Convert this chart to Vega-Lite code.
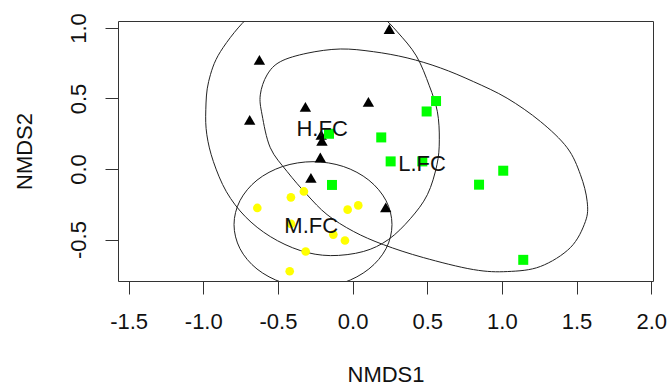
{
  "$schema": "https://vega.github.io/schema/vega-lite/v6.json",
  "width": 535,
  "height": 260,
  "autosize": {"type": "none"},
  "padding": {"left": 118, "top": 21, "right": 15, "bottom": 104},
  "background": "white",
  "config": {
    "view": {"stroke": "#333333", "strokeWidth": 1},
    "font": "Liberation Sans",
    "axis": {
      "grid": false,
      "domain": false,
      "tickSize": 13,
      "tickColor": "#333333",
      "tickWidth": 1,
      "labelFont": "Liberation Sans",
      "labelFontSize": 22,
      "labelColor": "#111111",
      "labelFlush": false,
      "labelOverlap": false,
      "titleFont": "Liberation Sans",
      "titleFontSize": 22,
      "titleFontWeight": "normal",
      "titleColor": "#111111"
    }
  },
  "datasets": {
    "pts": [
      {"group": "H.FC", "x": -0.624, "y": 0.774},
      {"group": "H.FC", "x": 0.246, "y": 0.993},
      {"group": "H.FC", "x": -0.689, "y": 0.348},
      {"group": "H.FC", "x": -0.316, "y": 0.441},
      {"group": "H.FC", "x": 0.106, "y": 0.476},
      {"group": "H.FC", "x": -0.210, "y": 0.242},
      {"group": "H.FC", "x": -0.205, "y": 0.200},
      {"group": "H.FC", "x": -0.216, "y": 0.082},
      {"group": "H.FC", "x": -0.279, "y": -0.063},
      {"group": "H.FC", "x": 0.222, "y": -0.272},
      {"group": "L.FC", "x": -0.158, "y": 0.250},
      {"group": "L.FC", "x": 0.192, "y": 0.224},
      {"group": "L.FC", "x": 0.496, "y": 0.408},
      {"group": "L.FC", "x": 0.559, "y": 0.482},
      {"group": "L.FC", "x": 0.255, "y": 0.054},
      {"group": "L.FC", "x": 0.467, "y": 0.054},
      {"group": "L.FC", "x": -0.138, "y": -0.113},
      {"group": "L.FC", "x": 1.009, "y": -0.012},
      {"group": "L.FC", "x": 0.847, "y": -0.111},
      {"group": "L.FC", "x": 1.143, "y": -0.644},
      {"group": "M.FC", "x": -0.638, "y": -0.276},
      {"group": "M.FC", "x": -0.413, "y": -0.201},
      {"group": "M.FC", "x": -0.326, "y": -0.159},
      {"group": "M.FC", "x": -0.413, "y": -0.389},
      {"group": "M.FC", "x": -0.033, "y": -0.288},
      {"group": "M.FC", "x": 0.038, "y": -0.258},
      {"group": "M.FC", "x": -0.129, "y": -0.465},
      {"group": "M.FC", "x": -0.051, "y": -0.507},
      {"group": "M.FC", "x": -0.314, "y": -0.585},
      {"group": "M.FC", "x": -0.421, "y": -0.725}
    ],
    "labels": [
      {"label": "H.FC", "x": -0.204, "y": 0.290},
      {"label": "L.FC", "x": 0.465, "y": 0.042},
      {"label": "M.FC", "x": -0.277, "y": -0.394}
    ],
    "ell": [
      {"group": "H.FC", "ord": 1, "x": -0.687, "y": 1.085},
      {"group": "H.FC", "ord": 2, "x": -0.885, "y": 0.832},
      {"group": "H.FC", "ord": 3, "x": -0.964, "y": 0.620},
      {"group": "H.FC", "ord": 4, "x": -0.983, "y": 0.420},
      {"group": "H.FC", "ord": 5, "x": -0.976, "y": 0.243},
      {"group": "H.FC", "ord": 6, "x": -0.932, "y": 0.052},
      {"group": "H.FC", "ord": 7, "x": -0.845, "y": -0.161},
      {"group": "H.FC", "ord": 8, "x": -0.718, "y": -0.338},
      {"group": "H.FC", "ord": 9, "x": -0.551, "y": -0.479},
      {"group": "H.FC", "ord": 10, "x": -0.350, "y": -0.578},
      {"group": "H.FC", "ord": 11, "x": -0.149, "y": -0.614},
      {"group": "H.FC", "ord": 12, "x": 0.072, "y": -0.585},
      {"group": "H.FC", "ord": 13, "x": 0.240, "y": -0.500},
      {"group": "H.FC", "ord": 14, "x": 0.387, "y": -0.352},
      {"group": "H.FC", "ord": 15, "x": 0.501, "y": -0.182},
      {"group": "H.FC", "ord": 16, "x": 0.565, "y": 0.030},
      {"group": "H.FC", "ord": 17, "x": 0.581, "y": 0.207},
      {"group": "H.FC", "ord": 18, "x": 0.568, "y": 0.406},
      {"group": "H.FC", "ord": 19, "x": 0.514, "y": 0.590},
      {"group": "H.FC", "ord": 20, "x": 0.427, "y": 0.802},
      {"group": "H.FC", "ord": 21, "x": 0.300, "y": 0.972},
      {"group": "H.FC", "ord": 22, "x": 0.190, "y": 1.085},
      {"group": "H.FC", "ord": 23, "x": 0.040, "y": 1.170},
      {"group": "H.FC", "ord": 24, "x": -0.230, "y": 1.205},
      {"group": "H.FC", "ord": 25, "x": -0.490, "y": 1.170},
      {"group": "L.FC", "ord": 1, "x": -0.082, "y": 0.851},
      {"group": "L.FC", "ord": 2, "x": 0.139, "y": 0.832},
      {"group": "L.FC", "ord": 3, "x": 0.365, "y": 0.788},
      {"group": "L.FC", "ord": 4, "x": 0.588, "y": 0.717},
      {"group": "L.FC", "ord": 5, "x": 0.809, "y": 0.620},
      {"group": "L.FC", "ord": 6, "x": 1.035, "y": 0.502},
      {"group": "L.FC", "ord": 7, "x": 1.258, "y": 0.337},
      {"group": "L.FC", "ord": 8, "x": 1.437, "y": 0.151},
      {"group": "L.FC", "ord": 9, "x": 1.526, "y": -0.040},
      {"group": "L.FC", "ord": 10, "x": 1.571, "y": -0.229},
      {"group": "L.FC", "ord": 11, "x": 1.559, "y": -0.373},
      {"group": "L.FC", "ord": 12, "x": 1.459, "y": -0.557},
      {"group": "L.FC", "ord": 13, "x": 1.258, "y": -0.691},
      {"group": "L.FC", "ord": 14, "x": 1.037, "y": -0.727},
      {"group": "L.FC", "ord": 15, "x": 0.809, "y": -0.713},
      {"group": "L.FC", "ord": 16, "x": 0.474, "y": -0.628},
      {"group": "L.FC", "ord": 17, "x": 0.206, "y": -0.536},
      {"group": "L.FC", "ord": 18, "x": 0.005, "y": -0.442},
      {"group": "L.FC", "ord": 19, "x": -0.171, "y": -0.323},
      {"group": "L.FC", "ord": 20, "x": -0.305, "y": -0.182},
      {"group": "L.FC", "ord": 21, "x": -0.439, "y": -0.017},
      {"group": "L.FC", "ord": 22, "x": -0.551, "y": 0.151},
      {"group": "L.FC", "ord": 23, "x": -0.606, "y": 0.384},
      {"group": "L.FC", "ord": 24, "x": -0.618, "y": 0.526},
      {"group": "L.FC", "ord": 25, "x": -0.573, "y": 0.667},
      {"group": "L.FC", "ord": 26, "x": -0.484, "y": 0.761},
      {"group": "L.FC", "ord": 27, "x": -0.305, "y": 0.821},
      {"group": "M.FC", "ord": 1, "x": 0.264, "y": -0.394},
      {"group": "M.FC", "ord": 2, "x": 0.224, "y": -0.565},
      {"group": "M.FC", "ord": 3, "x": 0.109, "y": -0.709},
      {"group": "M.FC", "ord": 4, "x": -0.062, "y": -0.806},
      {"group": "M.FC", "ord": 5, "x": -0.265, "y": -0.840},
      {"group": "M.FC", "ord": 6, "x": -0.468, "y": -0.806},
      {"group": "M.FC", "ord": 7, "x": -0.640, "y": -0.709},
      {"group": "M.FC", "ord": 8, "x": -0.754, "y": -0.565},
      {"group": "M.FC", "ord": 9, "x": -0.794, "y": -0.394},
      {"group": "M.FC", "ord": 10, "x": -0.754, "y": -0.224},
      {"group": "M.FC", "ord": 11, "x": -0.640, "y": -0.079},
      {"group": "M.FC", "ord": 12, "x": -0.468, "y": 0.018},
      {"group": "M.FC", "ord": 13, "x": -0.265, "y": 0.052},
      {"group": "M.FC", "ord": 14, "x": -0.062, "y": 0.018},
      {"group": "M.FC", "ord": 15, "x": 0.109, "y": -0.079},
      {"group": "M.FC", "ord": 16, "x": 0.224, "y": -0.224}
    ]
  },
  "layer": [
    {
      "data": {"name": "ell"},
      "mark": {"type": "line", "interpolate": "cardinal-closed", "clip": true, "color": "#222222", "strokeWidth": 1},
      "encoding": {
        "x": {
          "field": "x", "type": "quantitative",
          "scale": {"domain": [-1.571, 2.012], "nice": false, "zero": false},
          "axis": {
            "values": [-1.5, -1, -0.5, 0, 0.5, 1, 1.5, 2],
            "labelExpr": "replace(format(datum.value, '.1f'), '\u2212', '-')",
            "labelPadding": 17,
            "title": "NMDS1",
            "titleBaseline": "alphabetic",
            "titleY": 100
          }
        },
        "y": {
          "field": "y", "type": "quantitative",
          "scale": {"domain": [-0.794, 1.0495], "nice": false, "zero": false},
          "axis": {
            "values": [-0.5, 0, 0.5, 1],
            "labelExpr": "replace(format(datum.value, '.1f'), '\u2212', '-')",
            "labelAngle": 270,
            "labelAlign": "center",
            "labelBaseline": "bottom",
            "labelPadding": 15,
            "title": "NMDS2",
            "titleAngle": 270,
            "titleAlign": "center",
            "titleBaseline": "alphabetic",
            "titleX": -87,
            "titleY": 130
          }
        },
        "detail": {"field": "group", "type": "nominal"},
        "order": {"field": "ord", "type": "quantitative"}
      }
    },
    {
      "data": {"name": "pts"},
      "transform": [{"filter": "datum.group == 'H.FC'"}],
      "mark": {"type": "point", "shape": "triangle-up", "filled": true, "opacity": 1, "color": "#000000", "size": 130, "strokeWidth": 0},
      "encoding": {
        "x": {"field": "x", "type": "quantitative", "scale": {"domain": [-1.571, 2.012], "nice": false, "zero": false}},
        "y": {"field": "y", "type": "quantitative", "scale": {"domain": [-0.794, 1.0495], "nice": false, "zero": false}}
      }
    },
    {
      "data": {"name": "pts"},
      "transform": [{"filter": "datum.group == 'L.FC'"}],
      "mark": {"type": "point", "shape": "square", "filled": true, "opacity": 1, "color": "#00ff00", "size": 100, "strokeWidth": 0},
      "encoding": {
        "x": {"field": "x", "type": "quantitative", "scale": {"domain": [-1.571, 2.012], "nice": false, "zero": false}},
        "y": {"field": "y", "type": "quantitative", "scale": {"domain": [-0.794, 1.0495], "nice": false, "zero": false}}
      }
    },
    {
      "data": {"name": "pts"},
      "transform": [{"filter": "datum.group == 'M.FC'"}],
      "mark": {"type": "point", "shape": "circle", "filled": true, "opacity": 1, "color": "#ffff00", "size": 75, "strokeWidth": 0},
      "encoding": {
        "x": {"field": "x", "type": "quantitative", "scale": {"domain": [-1.571, 2.012], "nice": false, "zero": false}},
        "y": {"field": "y", "type": "quantitative", "scale": {"domain": [-0.794, 1.0495], "nice": false, "zero": false}}
      }
    },
    {
      "data": {"name": "labels"},
      "mark": {"type": "text", "font": "Liberation Sans", "fontSize": 22, "color": "#111111", "align": "center", "baseline": "middle", "dy": 1},
      "encoding": {
        "x": {"field": "x", "type": "quantitative", "scale": {"domain": [-1.571, 2.012], "nice": false, "zero": false}},
        "y": {"field": "y", "type": "quantitative", "scale": {"domain": [-0.794, 1.0495], "nice": false, "zero": false}},
        "text": {"field": "label", "type": "nominal"}
      }
    }
  ]
}
